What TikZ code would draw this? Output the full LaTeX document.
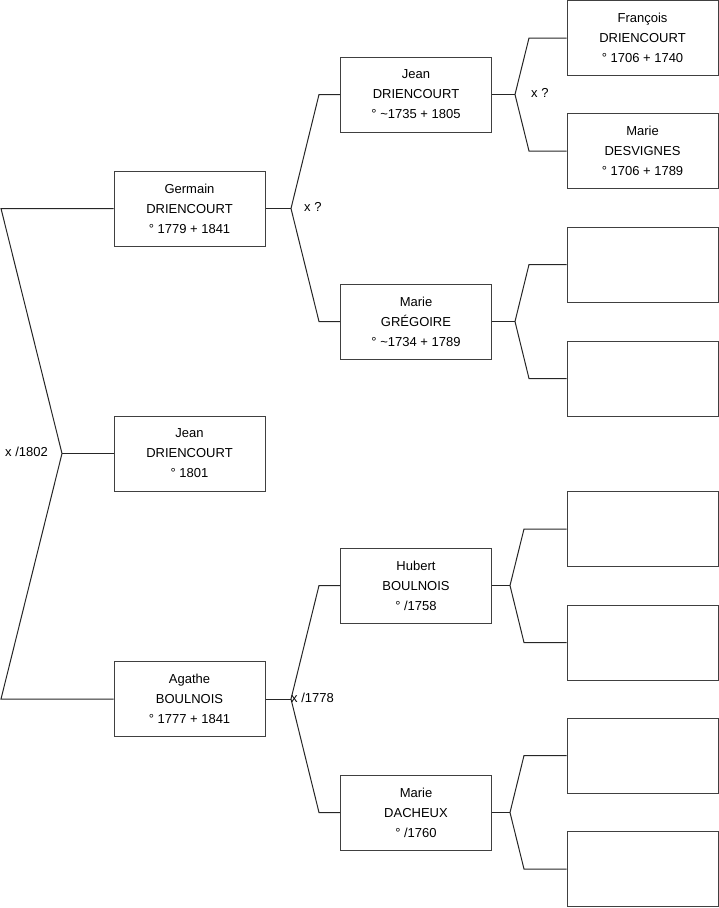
\documentclass[tikz,border=0pt]{standalone}
\usepackage{fontspec}
\setmainfont{Liberation Sans}
\begin{document}
\begin{tikzpicture}[x=1pt,y=-1pt,
  person/.style={draw=black!75, line width=1pt, minimum width=151pt, minimum height=75pt, inner sep=0pt, align=center, font=\fontsize{13}{20}\selectfont},
  link/.style={draw=black!85, line width=1pt},
  lbl/.style={font=\fontsize{13}{15}\selectfont, inner sep=0pt, anchor=west}]
\useasboundingbox (0,0) rectangle (719,908);
% generation 1
\node[person] (G) at (189.5,208.5) {Germain\\DRIENCOURT\\° 1779 + 1841};
\node[person] (J) at (189.5,453.5) {Jean\\DRIENCOURT\\° 1801};
\node[person] (A) at (189.5,699) {Agathe\\BOULNOIS\\° 1777 + 1841};
% generation 2
\node[person] (JD) at (416,94.5) {Jean\\DRIENCOURT\\° \textasciitilde1735 + 1805};
\node[person] (MG) at (416,321.5) {Marie\\GRÉGOIRE\\° \textasciitilde1734 + 1789};
\node[person] (HB) at (416,585.5) {Hubert\\BOULNOIS\\° /1758};
\node[person] (MD) at (416,812.5) {Marie\\DACHEUX\\° /1760};
% generation 3
\node[person] (F) at (642.5,38) {François\\DRIENCOURT\\° 1706 + 1740};
\node[person] (MS) at (642.5,151) {Marie\\DESVIGNES\\° 1706 + 1789};
\node[person] (E1) at (642.5,264.5) {};
\node[person] (E2) at (642.5,378.5) {};
\node[person] (E3) at (642.5,529) {};
\node[person] (E4) at (642.5,642.5) {};
\node[person] (E5) at (642.5,755.5) {};
\node[person] (E6) at (642.5,869) {};
% junction points
\coordinate (l1) at (1,208.5);
\coordinate (l0) at (62,453.5);
\coordinate (l2) at (1,699);
\coordinate (g0) at (291,208.5);
\coordinate (g1) at (319,94.5);
\coordinate (g2) at (319,321.5);
\coordinate (a0) at (291,699);
\coordinate (a1) at (319,585.5);
\coordinate (a2) at (319,812.5);
\coordinate (j0) at (515,94.5);
\coordinate (j1) at (529,38);
\coordinate (j2) at (529,151);
\coordinate (m0) at (515,321.5);
\coordinate (m1) at (529,264.5);
\coordinate (m2) at (529,378.5);
\coordinate (h0) at (510,585.5);
\coordinate (h1) at (524,529);
\coordinate (h2) at (524,642.5);
\coordinate (d0) at (510,812.5);
\coordinate (d1) at (524,755.5);
\coordinate (d2) at (524,869);
% connectors
\draw[link] (G.west) -- (l1) -- (l0) -- (l2) -- (A.west);
\draw[link] (l0) -- (J.west);
\draw[link] (JD.west) -- (g1) -- (g0) -- (g2) -- (MG.west);
\draw[link] (G.east) -- (g0);
\draw[link] (HB.west) -- (a1) -- (a0) -- (a2) -- (MD.west);
\draw[link] (A.east) -- (a0);
\draw[link] (F.west) -- (j1) -- (j0) -- (j2) -- (MS.west);
\draw[link] (JD.east) -- (j0);
\draw[link] (E1.west) -- (m1) -- (m0) -- (m2) -- (E2.west);
\draw[link] (MG.east) -- (m0);
\draw[link] (E3.west) -- (h1) -- (h0) -- (h2) -- (E4.west);
\draw[link] (HB.east) -- (h0);
\draw[link] (E5.west) -- (d1) -- (d0) -- (d2) -- (E6.west);
\draw[link] (MD.east) -- (d0);
% labels
\node[lbl] (L1) at (5,452) {x /1802};
\node[lbl] (L2) at (304,207) {x ?};
\node[lbl] (L3) at (531,93) {x ?};
\node[lbl] (L4) at (291,698) {x /1778};
\end{tikzpicture}
\end{document}
